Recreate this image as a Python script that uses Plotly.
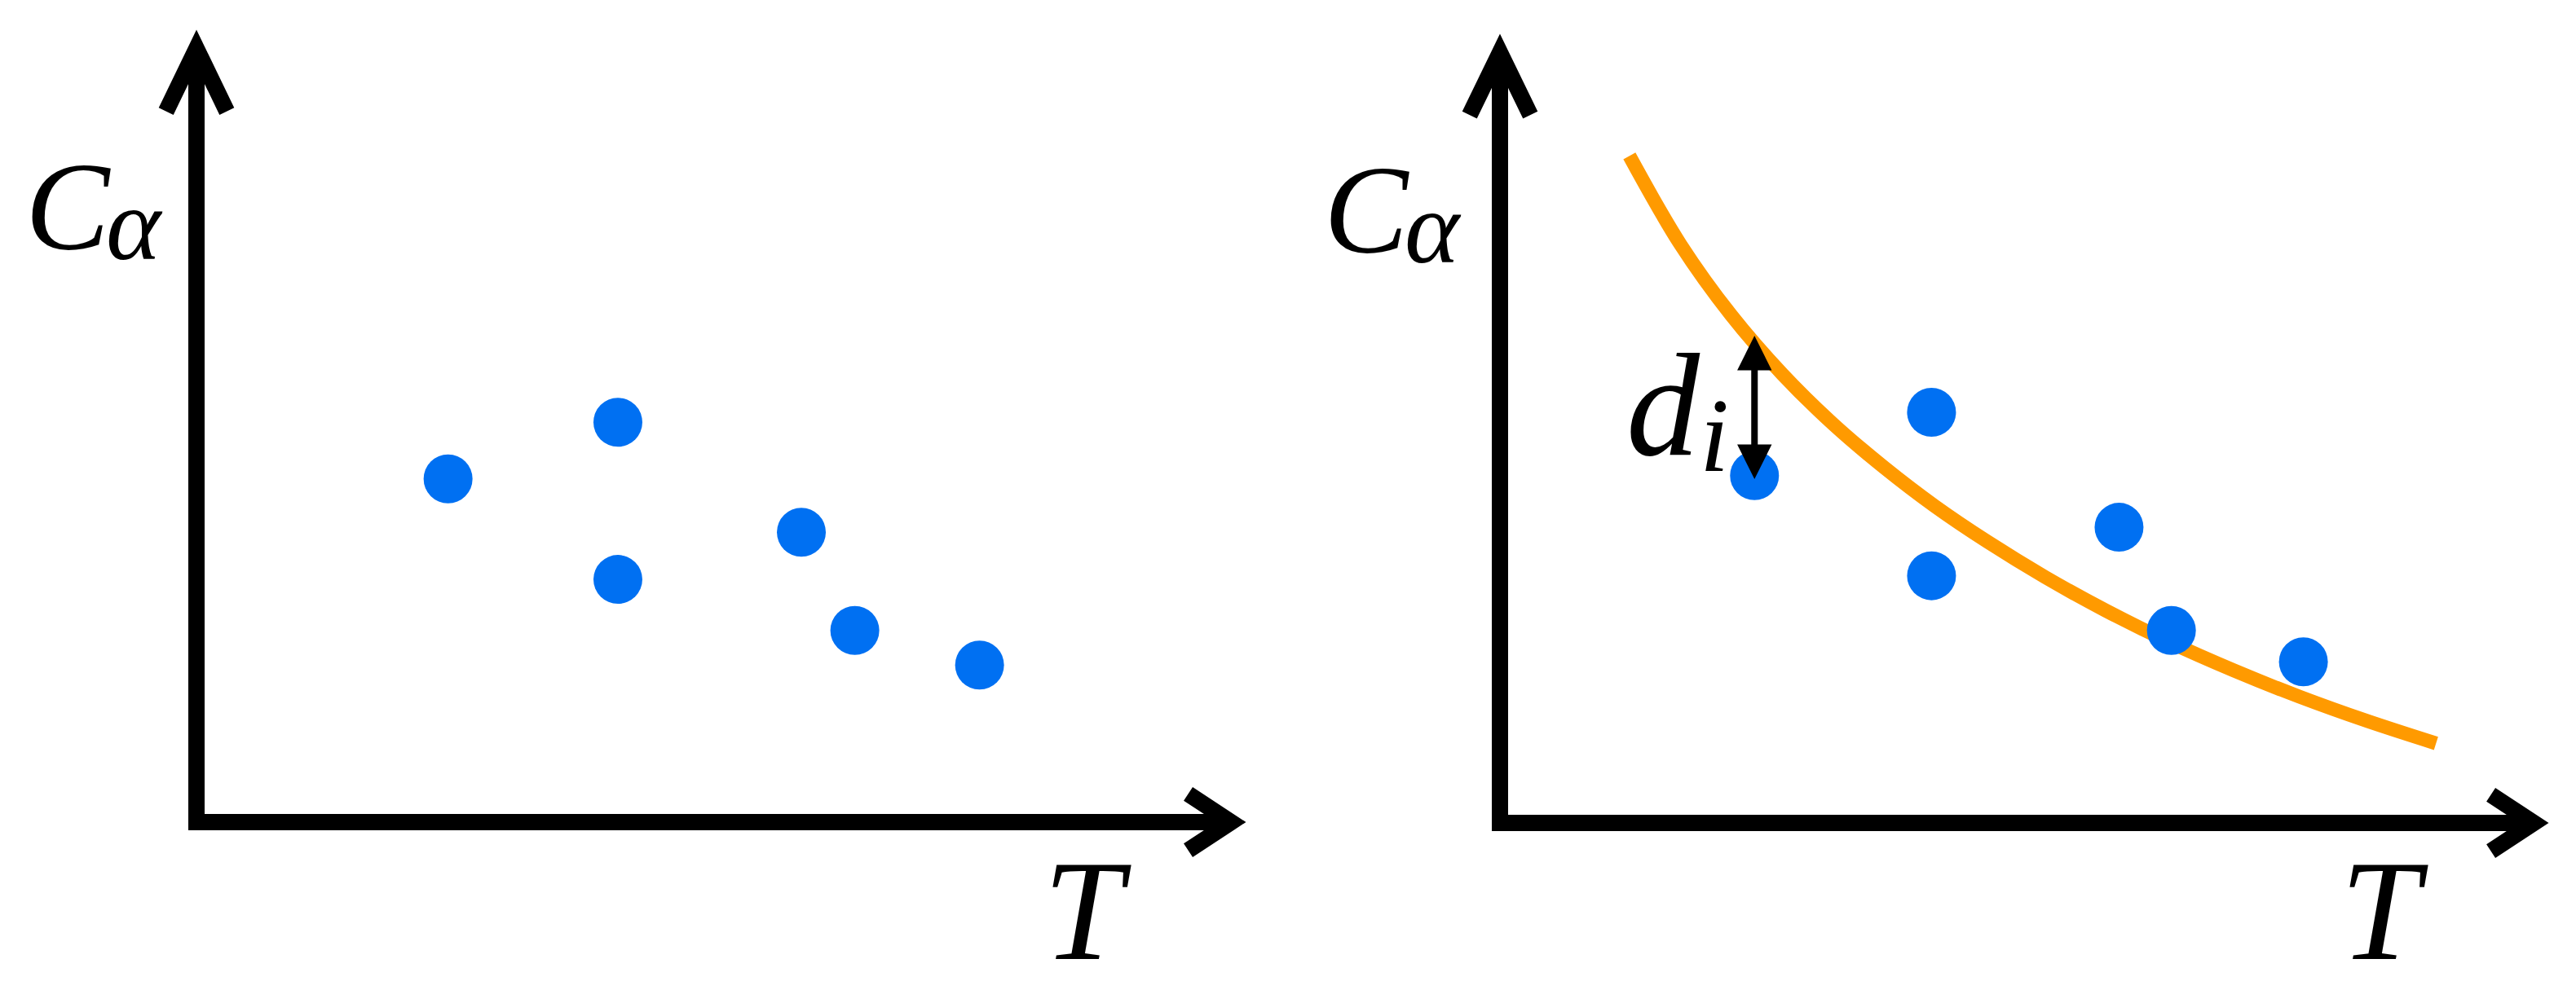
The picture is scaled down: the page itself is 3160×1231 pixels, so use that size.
import numpy as np
import plotly.graph_objects as go

# ---------------- data ----------------
# Left panel: measured points (T, C_alpha)
left_T = [2.40, 4.02, 4.02, 5.77, 6.28, 7.47]
left_C = [4.37, 5.09, 3.09, 3.69, 2.44, 2.00]

# Right panel: same measurements plus fitted curve
right_T = [2.43, 4.12, 4.12, 5.91, 6.41, 7.67]
right_C = [4.44, 5.25, 3.16, 3.78, 2.46, 2.06]

curve_T = [1.236, 1.723, 2.209, 2.695, 3.181, 3.667, 4.153, 4.655,
           5.204, 5.784, 6.380, 7.007, 7.634, 8.277, 8.936]
curve_C = [8.527, 7.396, 6.489, 5.739, 5.099, 4.545, 4.048, 3.594,
           3.143, 2.715, 2.320, 1.949, 1.613, 1.304, 1.017]

c_main, c_sub = "<i>C</i>", "<i>α</i>"
x_label = "<i>T</i>"
d_main, d_sub = "<i>d</i>", "<i>i</i>"

# ---------------- styles / layout constants ----------------
BLUE = "#0070F2"
ORANGE = "#FF9A00"
BLACK = "#000000"
FONT = "Liberation Serif"
AXIS_W = 20
AX_X_END = 9.87
AX_Y_END = 9.85

W, H = 3160, 1231
PAGE_OFF = 8  # default body margin of the page
L_ORIG = (241, 1009); L_SX, L_SY = 128.6, 96.4
R_ORIG = (1840, 1010); R_SX, R_SY = 128.5, 96.0


def xrange_for(p0, p1, ox, sx):
    ox -= PAGE_OFF
    return [(p0 - ox) / sx, (p1 - ox) / sx]


def yrange_for(oy, sy):
    oy -= PAGE_OFF
    return [-(H - oy) / sy, oy / sy]


fig = go.Figure()

fig.add_trace(go.Scatter(x=curve_T, y=curve_C, mode="lines",
                         line=dict(color=ORANGE, width=17, shape="spline", smoothing=1),
                         xaxis="x2", yaxis="y2", hoverinfo="skip"))
fig.add_trace(go.Scatter(x=left_T, y=left_C, mode="markers",
                         marker=dict(color=BLUE, size=60, line=dict(width=0)),
                         xaxis="x", yaxis="y"))
fig.add_trace(go.Scatter(x=right_T, y=right_C, mode="markers",
                         marker=dict(color=BLUE, size=60, line=dict(width=0)),
                         xaxis="x2", yaxis="y2"))

shapes = []
annotations = []
for xr, yr, t_x, lab_dx in [("x", "y", 8.50, 0.0), ("x2", "y2", 8.44, -0.05)]:
    shapes.append(dict(type="path", xref=xr, yref=yr,
                       path=f"M 0,{AX_Y_END} L 0,0 L {AX_X_END},0",
                       line=dict(color=BLACK, width=AXIS_W)))
    shapes.append(dict(type="path", xref=xr, yref=yr,
                       path=f"M -0.29,{AX_Y_END-0.80} L 0,{AX_Y_END} L 0.29,{AX_Y_END-0.80}",
                       line=dict(color=BLACK, width=AXIS_W)))
    shapes.append(dict(type="path", xref=xr, yref=yr,
                       path=f"M {AX_X_END-0.41},0.36 L {AX_X_END},0 L {AX_X_END-0.41},-0.36",
                       line=dict(color=BLACK, width=AXIS_W)))
    annotations.append(dict(xref=xr, yref=yr, x=-0.80 + lab_dx, y=7.83, text=c_main,
                            showarrow=False, xanchor="right", yanchor="middle",
                            font=dict(family=FONT, size=155, color=BLACK)))
    annotations.append(dict(xref=xr, yref=yr, x=-0.30 + lab_dx, y=7.61, text=c_sub,
                            showarrow=False, xanchor="right", yanchor="middle",
                            font=dict(family=FONT, size=128, color=BLACK)))
    annotations.append(dict(xref=xr, yref=yr, x=t_x, y=-1.13, text=x_label,
                            showarrow=False, xanchor="center", yanchor="middle",
                            font=dict(family=FONT, size=175, color=BLACK)))

# residual arrow d_i between first point and curve
x0 = right_T[0]
top = float(np.interp(x0, curve_T, curve_C))
annotations.append(dict(xref="x2", yref="y2", axref="x2", ayref="y2",
                        x=x0, y=top + 0.08, ax=x0, ay=right_C[0] - 0.06, text="",
                        showarrow=True, arrowside="end+start",
                        arrowhead=2, startarrowhead=2,
                        arrowsize=1.06, startarrowsize=1.06,
                        arrowwidth=8, arrowcolor=BLACK, standoff=0, startstandoff=0))
annotations.append(dict(xref="x2", yref="y2", x=1.56, y=5.34, text=d_main,
                        showarrow=False, xanchor="center", yanchor="middle",
                        font=dict(family=FONT, size=180, color=BLACK)))
annotations.append(dict(xref="x2", yref="y2", x=2.05, y=4.96, text=d_sub,
                        showarrow=False, xanchor="center", yanchor="middle",
                        font=dict(family=FONT, size=130, color=BLACK)))

ax_common = dict(visible=False, showgrid=False, zeroline=False, fixedrange=True)
fig.update_layout(
    width=W, height=H, autosize=False,
    margin=dict(l=0, r=0, t=0, b=0, pad=0),
    paper_bgcolor="white", plot_bgcolor="white",
    showlegend=False,
    xaxis=dict(domain=[0, 0.5], range=xrange_for(0, W / 2, L_ORIG[0], L_SX), **ax_common),
    yaxis=dict(domain=[0, 1], range=yrange_for(L_ORIG[1], L_SY), **ax_common),
    xaxis2=dict(domain=[0.5, 1], range=xrange_for(W / 2, W, R_ORIG[0], R_SX),
                anchor="y2", **ax_common),
    yaxis2=dict(domain=[0, 1], range=yrange_for(R_ORIG[1], R_SY), anchor="x2", **ax_common),
    shapes=shapes, annotations=annotations,
)

fig.write_html("out.html")
